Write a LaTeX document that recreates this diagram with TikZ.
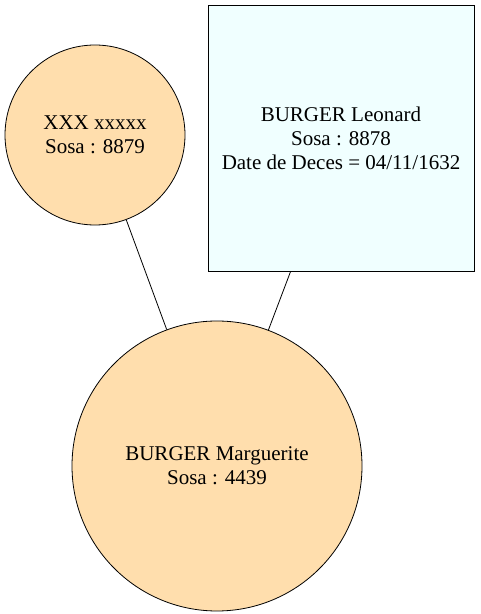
\documentclass[tikz,border=0pt]{standalone}
\usepackage{fontspec}
\setmainfont{Liberation Serif}
\definecolor{navajo}{HTML}{FFDEAD}
\definecolor{azurefill}{HTML}{F0FFFF}
\begin{document}
\begin{tikzpicture}[x=1pt,y=1pt,
  person/.style={draw=black,line width=0.8pt,fill=navajo,circle,inner sep=0pt,align=center,font=\fontsize{21}{24}\selectfont},
  rectperson/.style={draw=black,line width=0.8pt,fill=azurefill,rectangle,inner sep=0pt,align=center,font=\fontsize{21}{24}\selectfont},
  link/.style={draw=black,line width=0.8pt}]
\useasboundingbox (0,0) rectangle (480,614);
\node[person,minimum size=180pt] (x) at (95,479) {XXX xxxxx\\Sosa : 8879};
\node[rectperson,minimum width=266pt,minimum height=266pt] (l) at (341,476) {BURGER Leonard\\Sosa : 8878\\Date de Deces = 04/11/1632};
\node[person,minimum size=290pt] (m) at (217,148) {BURGER Marguerite\\Sosa : 4439};
\draw[link] (x) -- (m);
\draw[link] (l) -- (m);
\end{tikzpicture}
\end{document}
